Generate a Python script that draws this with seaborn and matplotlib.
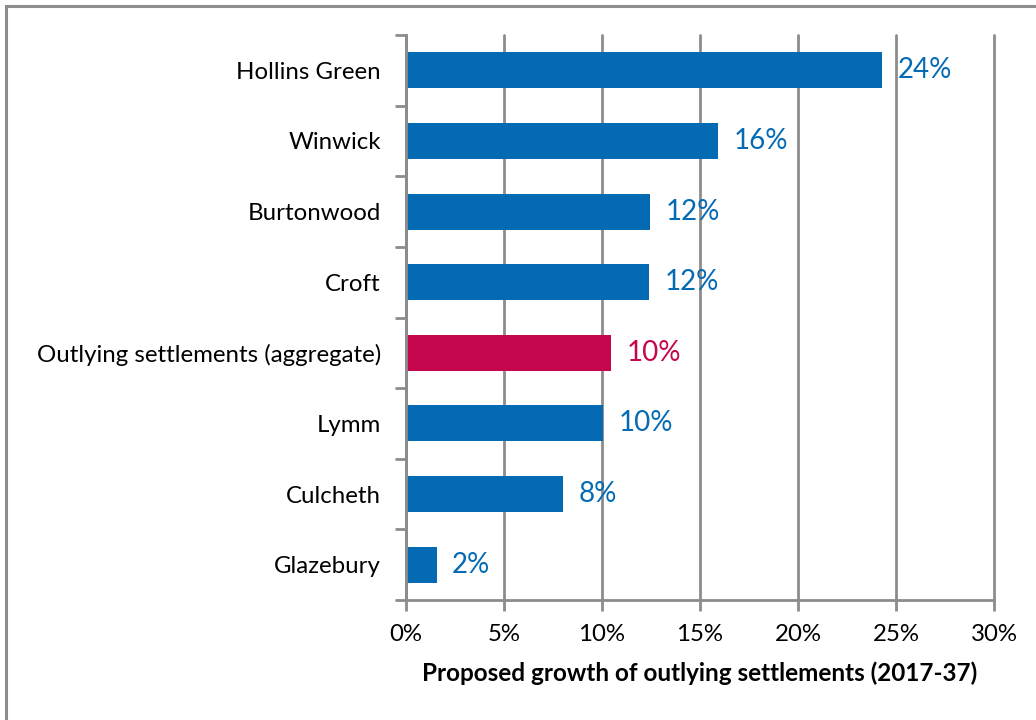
import matplotlib
matplotlib.use("Agg")
import matplotlib.pyplot as plt
import seaborn as sns
import pandas as pd
from matplotlib.patches import Rectangle

settlements = ["Hollins Green", "Winwick", "Burtonwood", "Croft",
               "Outlying settlements (aggregate)", "Lymm", "Culcheth", "Glazebury"]
growth_pct = [24.3, 15.94, 12.45, 12.42, 10.48, 10.07, 8.02, 1.57]
x_ticks = [0, 5, 10, 15, 20, 25, 30]

BLUE = "#046AB4"
CRIMSON = "#C5064F"
GRID = "#8C8C8C"
colors = [CRIMSON if "aggregate" in s else BLUE for s in settlements]

sns.set_theme(style="white")
plt.rcParams["font.family"] = ["Lato", "DejaVu Sans"]

df = pd.DataFrame({"settlement": settlements, "growth": growth_pct})

fig = plt.figure(figsize=(10.36, 7.2), dpi=100)
ax = fig.add_axes([406 / 1036, 1 - 600 / 720, 588 / 1036, 565 / 720])

sns.barplot(data=df, y="settlement", x="growth", hue="settlement",
            palette=colors, legend=False, width=0.51, ax=ax,
            saturation=1, orient="h", linewidth=0)

ax.set_xlim(0, 30)
ax.set_ylim(len(settlements) - 0.5, -0.5)
ax.set_xticks(x_ticks)
ax.set_xticklabels([f"{t}%" for t in x_ticks])
ax.xaxis.grid(True, color=GRID, linewidth=2)
ax.yaxis.grid(False)
ax.set_axisbelow(True)
for gl in ax.get_xgridlines():
    gl.set_clip_on(False)

# category boundary ticks on the y axis
ax.set_yticks([i - 0.5 for i in range(len(settlements) + 1)], minor=True)
ax.tick_params(axis="y", which="minor", length=8, width=2, color=GRID, left=True)
ax.tick_params(axis="y", which="major", length=0, labelsize=17.3, pad=18, labelcolor="black")
ax.tick_params(axis="x", which="major", length=8, width=2, color=GRID, bottom=True,
               labelsize=17.3, pad=9, labelcolor="black")

for side in ["top", "right"]:
    ax.spines[side].set_visible(False)
for side in ["left", "bottom"]:
    ax.spines[side].set_color(GRID)
    ax.spines[side].set_linewidth(2)

ax.set_ylabel("")
ax.set_xlabel("Proposed growth of outlying settlements (2017-37)",
              fontsize=17.5, fontweight="bold", labelpad=12, color="black")

for i, (v, c) in enumerate(zip(growth_pct, colors)):
    ax.annotate(f"{v:.0f}%", xy=(v, i), xytext=(11, 0), textcoords="offset points",
                va="center", ha="left", fontsize=20, color=c)

# outer frame of the chart area
fig.patches.append(Rectangle((6 / 1036, -0.1), 1.2, 1 - 6 / 720 + 0.1,
                             transform=fig.transFigure, fill=False,
                             edgecolor=GRID, linewidth=2.2))

fig.savefig("out.png", dpi=100)
